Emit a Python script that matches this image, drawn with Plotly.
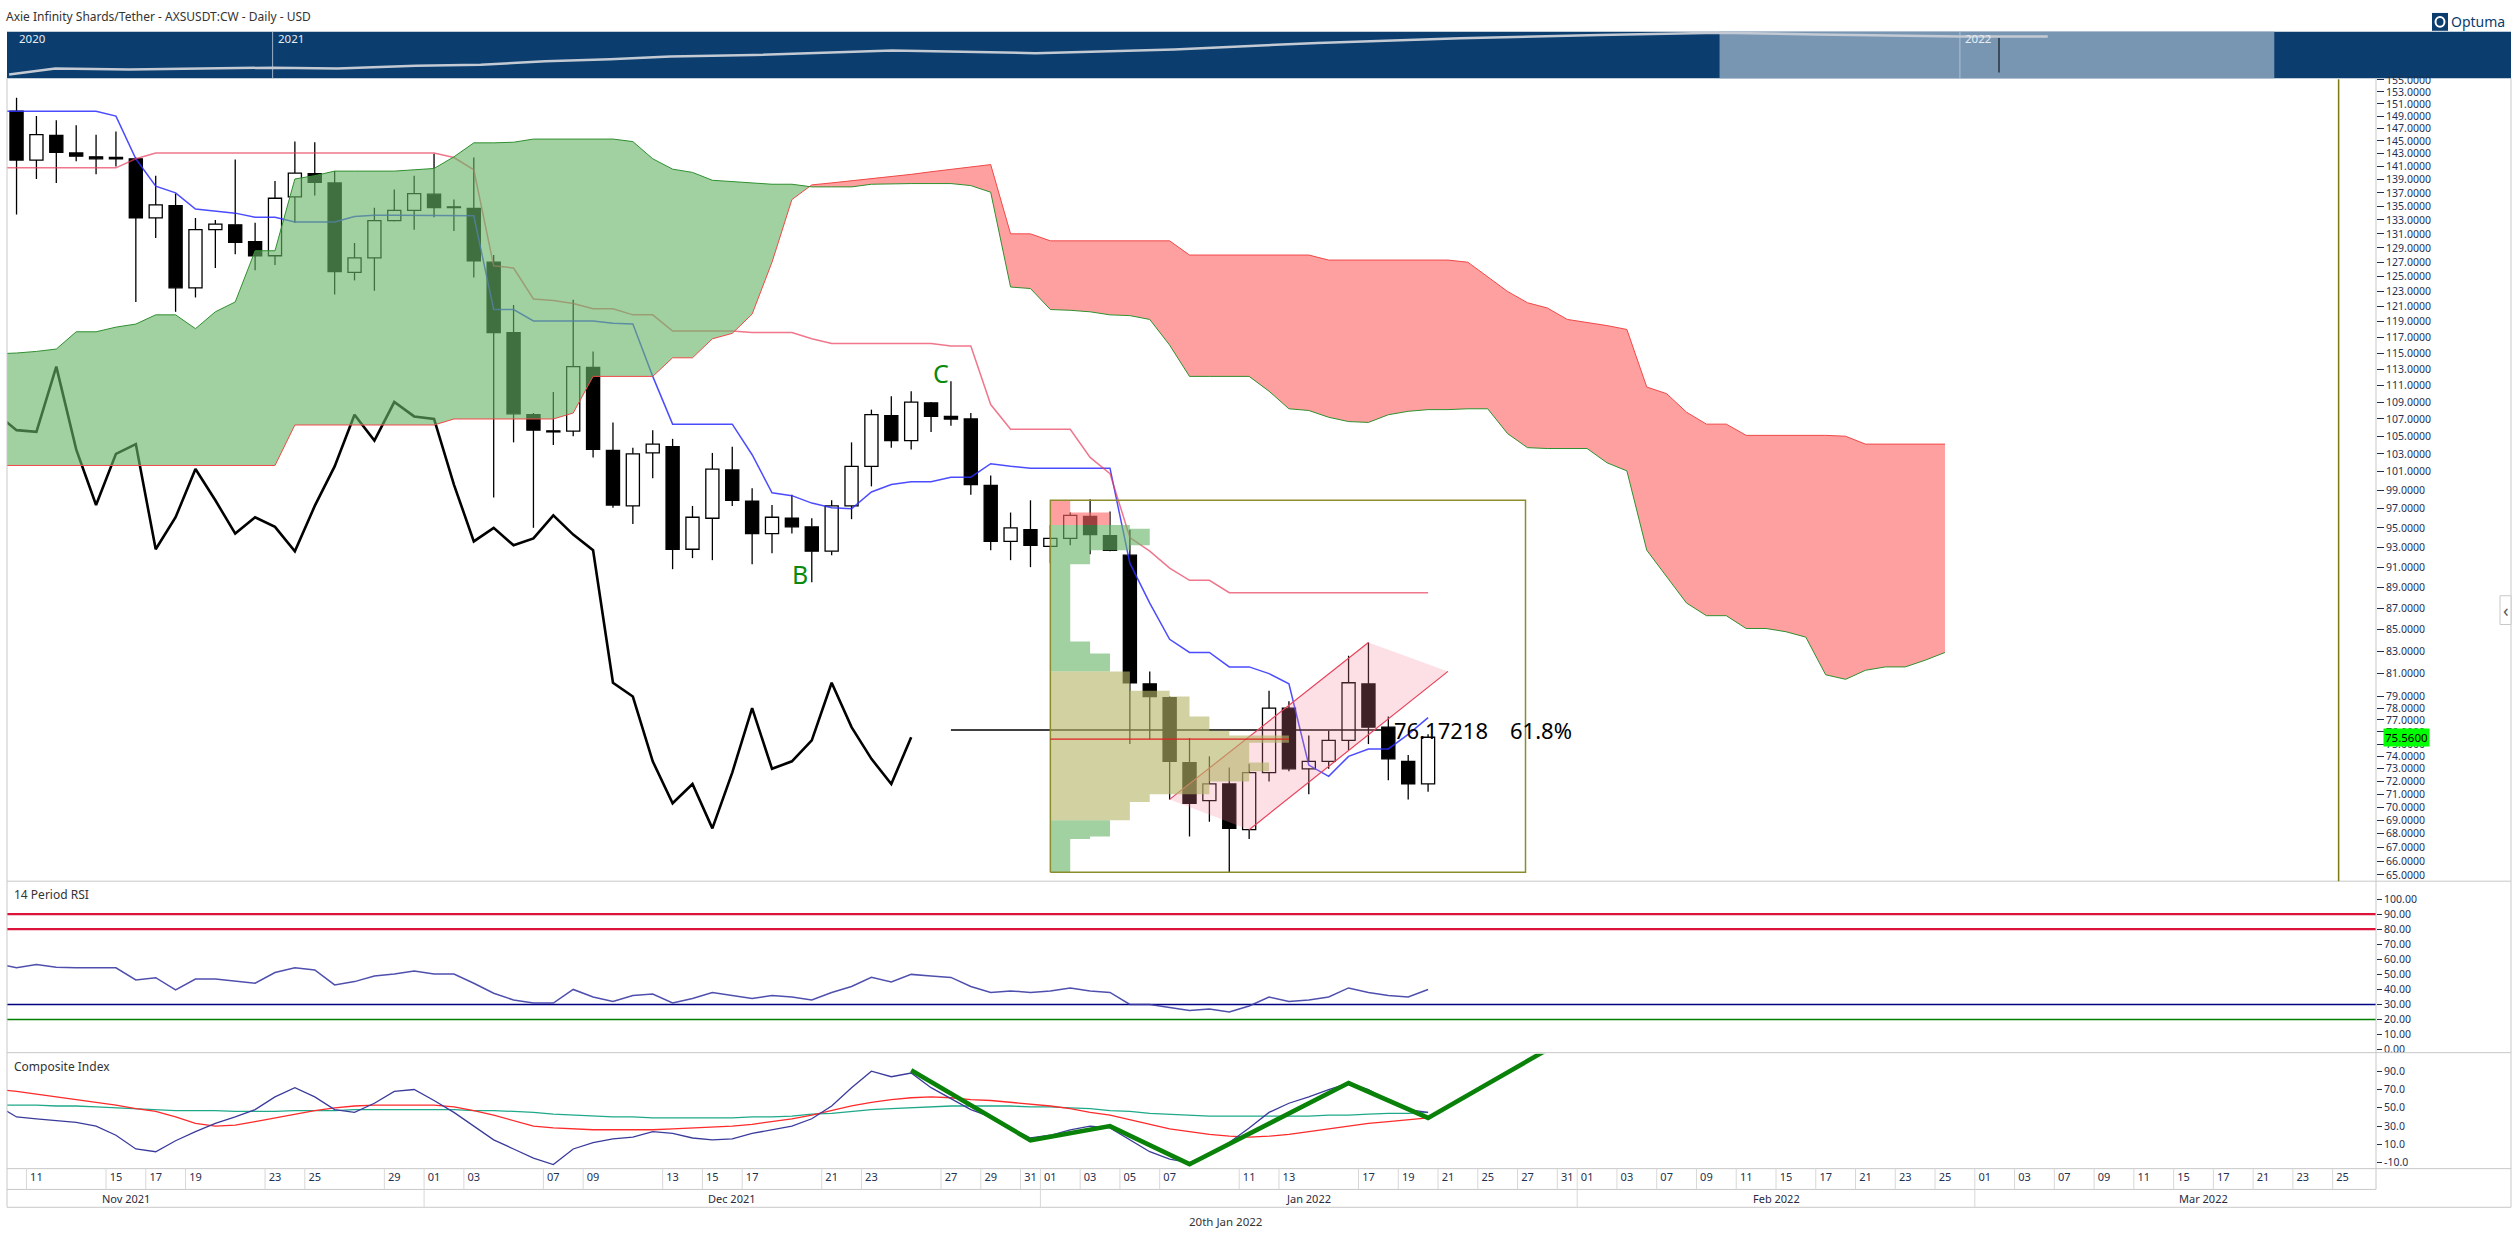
import math
import pandas as pd
import plotly.graph_objects as go

W, H = 2518, 1244
FONT = "Noto Sans"
TICK_COLOR = "#1f3050"

# ---------------- time axis (daily candles, future = weekdays) ----------------
data_dates = pd.date_range("2021-11-10", "2022-01-20", freq="D")
future_dates = pd.bdate_range("2022-01-21", "2022-03-31")
all_dates = list(data_dates) + list(future_dates)
POS = {d.strftime("%Y-%m-%d"): k for k, d in enumerate(all_dates)}


def xpos(s):
    if s in POS:
        return POS[s]
    return (pd.Timestamp(s) - data_dates[0]).days


# ---------------- price data (AXS/USDT daily, Nov 10 2021 - Jan 20 2022) ----------------
opens = [149.8, 142.0, 145.9, 143.1, 142.5, 142.4, 142.2, 133.3, 135.1, 123.5,
         131.6, 132.3, 129.9, 127.9, 136.4, 139.9, 138.5, 125.6, 127.6, 132.9,
         134.4, 136.8, 134.9, 134.7, 127.0, 117.6, 107.5, 105.6, 105.6, 113.2,
         103.4, 97.3, 103.1, 103.8, 92.8, 96.0, 101.2, 97.8, 94.4, 96.0,
         95.1, 92.6, 97.3, 101.6, 107.4, 104.5, 108.9, 107.3, 107.0, 99.5,
         93.6, 94.8, 93.1, 93.9, 96.2, 94.2, 92.2, 80.1, 78.9, 73.5,
         70.5, 71.8, 68.3, 72.7, 78.0, 73.0, 73.6, 75.3, 80.1, 76.4,
         73.6, 71.8]
highs = [152.0, 149.0, 148.3, 147.5, 146.0, 146.5, 142.4, 139.6, 136.9, 133.3,
         133.0, 142.1, 132.6, 138.8, 144.9, 144.8, 140.3, 129.7, 134.8, 137.5,
         139.6, 143.0, 136.0, 142.4, 128.0, 121.2, 107.7, 110.2, 121.9, 115.2,
         106.6, 103.7, 105.7, 104.7, 97.3, 103.1, 103.8, 99.2, 97.4, 98.5,
         96.0, 97.9, 104.3, 108.1, 109.7, 110.3, 109.0, 111.5, 107.7, 100.6,
         96.6, 97.9, 95.3, 96.6, 98.0, 96.7, 94.8, 81.2, 79.0, 75.5,
         74.0, 73.1, 73.4, 79.5, 78.6, 75.7, 76.1, 82.6, 83.8, 77.3,
         74.1, 75.8]
lows = [133.8, 139.1, 138.5, 141.8, 139.8, 141.0, 121.6, 130.4, 120.3, 122.2,
        126.2, 128.1, 125.9, 126.6, 132.6, 136.6, 122.6, 124.5, 123.1, 132.8,
        131.6, 133.4, 131.4, 124.9, 98.2, 104.3, 95.0, 104.0, 105.0, 102.6,
        97.1, 95.4, 100.3, 90.8, 91.9, 91.7, 97.3, 91.3, 92.4, 94.4,
        89.5, 92.2, 95.9, 99.4, 103.7, 103.5, 105.5, 106.2, 98.5, 92.7,
        91.7, 91.0, 91.4, 93.2, 92.3, 92.6, 75.0, 75.4, 70.6, 67.8,
        68.9, 65.2, 67.6, 72.0, 72.8, 71.0, 73.0, 74.5, 75.0, 72.1,
        70.6, 71.2]
closes = [142.0, 146.0, 143.2, 142.6, 142.2, 142.2, 133.3, 135.2, 123.5, 131.6,
          132.4, 129.8, 127.9, 136.2, 140.0, 138.6, 125.7, 127.6, 132.9, 134.4,
          136.9, 134.8, 134.8, 127.2, 117.6, 107.6, 105.7, 105.5, 113.3, 103.5,
          97.4, 103.0, 104.1, 92.8, 96.1, 101.3, 97.9, 94.4, 96.1, 95.1,
          92.6, 97.3, 101.6, 107.5, 104.5, 109.0, 107.3, 107.0, 99.6, 93.6,
          95.0, 93.2, 93.9, 96.3, 94.3, 92.7, 80.2, 79.0, 73.6, 70.3,
          71.8, 68.4, 72.7, 78.0, 73.0, 73.6, 75.3, 80.2, 76.4, 73.8,
          71.8, 75.56]

# ---------------- Ichimoku lines (first value = Nov 09, at the left edge) ----------------
tenkan = [149.8, 149.8, 149.8, 149.8, 149.8, 149.8, 149.0, 142.2, 138.0, 137.0, 134.6,
          134.3, 134.0, 133.4, 133.4, 132.7, 132.7, 132.7, 133.5, 133.7, 133.7,
          133.7, 133.7, 133.7, 133.6, 120.6, 120.6, 119.1, 119.1, 119.1, 119.1,
          118.8, 118.7, 112.1, 106.4, 106.4, 106.4, 106.4, 102.9, 98.7, 98.4,
          97.6, 97.1, 97.0, 98.8, 99.6, 99.9, 99.9, 100.4, 100.4, 101.9,
          101.6, 101.4, 101.4, 101.4, 101.4, 101.4, 91.4, 87.5, 84.1, 82.9,
          82.9, 81.6, 81.6, 81.0, 80.1, 73.3, 72.4, 74.0, 74.6, 74.6,
          75.8, 77.2]
kijun = [140.8, 140.8, 140.8, 140.8, 140.8, 140.8, 140.8, 142.2, 143.1, 143.1, 143.1,
         143.1, 143.1, 143.1, 143.1, 143.1, 143.1, 143.1, 143.1, 143.1, 143.1,
         143.1, 143.1, 142.4, 140.5, 126.5, 126.2, 122.0, 121.8, 121.4, 120.7,
         120.7, 119.9, 119.9, 117.8, 117.8, 117.8, 117.8, 117.6, 117.6, 117.6,
         116.8, 116.2, 116.2, 116.2, 116.2, 116.2, 116.2, 115.9, 115.9, 108.7,
         105.8, 105.8, 105.8, 105.8, 102.6, 100.8, 94.0, 92.6, 90.9, 89.7,
         89.7, 88.5, 88.5, 88.5, 88.5, 88.5, 88.5, 88.5, 88.5, 88.5,
         88.5, 88.5]
span_a = [114.9, 115.0, 115.2, 115.5, 117.7, 117.7, 118.3, 118.7, 119.9, 119.9, 118.1,
          120.3, 121.6, 128.6, 128.6, 139.1, 139.6, 140.3, 140.3, 140.3, 140.3,
          140.5, 140.7, 142.5, 144.7, 144.7, 144.8, 145.3, 145.3, 145.3, 145.3,
          145.3, 144.9, 142.2, 140.6, 140.1, 138.9, 138.7, 138.6, 138.3, 138.3,
          137.9, 137.9, 137.9, 138.3, 138.4, 138.4, 138.4, 138.4, 138.1, 137.1,
          123.6, 123.4, 120.6, 120.5, 120.3, 119.9, 119.8, 119.3, 116.0, 112.1,
          112.1, 112.1, 112.1, 110.3, 108.2, 108.0, 107.2, 106.7, 106.6, 107.5,
          107.9, 108.1, 108.1, 108.2, 108.2, 105.3, 103.7, 103.6, 103.6, 103.6,
          102.0, 101.1, 92.7, 90.1, 87.5, 86.3, 86.3, 85.1, 85.1, 84.8,
          84.3, 80.9, 80.5, 81.3, 81.6, 81.6, 82.2, 82.9]
span_b = [101.7, 101.7, 101.7, 101.7, 101.7, 101.7, 101.7, 101.7, 101.7, 101.7, 101.7,
          101.7, 101.7, 101.7, 101.7, 106.3, 106.3, 106.3, 106.3, 106.3, 106.3,
          106.3, 106.3, 107.0, 107.0, 107.0, 107.0, 107.0, 107.0, 107.7, 112.1,
          112.1, 112.1, 112.1, 114.4, 114.4, 116.8, 117.5, 120.0, 127.0, 136.0,
          138.2, 138.5, 138.8, 139.2, 139.5, 139.8, 140.2, 140.6, 141.0, 141.3,
          131.0, 131.0, 130.0, 130.0, 130.0, 130.0, 130.0, 130.0, 130.0, 128.0,
          128.0, 128.0, 128.0, 128.0, 128.0, 128.0, 127.3, 127.3, 127.3, 127.3,
          127.3, 127.3, 127.3, 127.0, 125.0, 123.0, 121.5, 120.8, 119.3, 118.9,
          118.5, 118.0, 110.8, 110.0, 107.8, 106.4, 106.4, 105.1, 105.1, 105.1,
          105.1, 105.1, 105.0, 104.1, 104.1, 104.1, 104.1, 104.1]
CHIKOU_SHIFT = 26

# ---------------- indicators (first value = Nov 09, at the left edge) ----------------
rsi = [57.2, 54.4, 56.6, 54.8, 54.4, 54.4, 54.4, 46.3, 47.8, 39.7, 46.9,
       46.9, 45.6, 44.1, 51.2, 54.4, 52.9, 43.0, 45.2, 48.9, 50.2,
       52.2, 50.2, 50.2, 44.1, 37.5, 33, 31, 31, 40, 35,
       32, 36, 37, 31, 34, 38, 36, 34, 36, 35,
       33, 38, 42, 48, 45, 50, 49, 48, 42, 38,
       39, 38, 39, 41, 39, 38, 30, 30, 28, 26,
       27, 25, 29, 35, 32, 33, 35, 41, 38, 36,
       35, 40]
rsi_levels = [90, 80, 30, 20]
rsi_level_colors = ["#dc143c", "#dc143c", "#000080", "#008000"]
rsi_level_widths = [2.2, 2.2, 1.5, 1.5]

composite = [52.8, 40, 38, 36, 34, 30, 20, 5, 2, 14, 24,
             33, 40, 48, 62, 72, 62, 48, 45, 55, 68,
             70, 58, 45, 30, 15, 5, -5, -12, 5, 12,
             16, 18, 24, 22, 17, 15, 16, 22, 26, 30,
             38, 52, 72, 90, 84, 88, 72, 60, 48, 40,
             28, 17, 20, 26, 30, 28, 15, 2, -6, -10,
             0, 12, 28, 45, 55, 62, 70, 77, 70, 58,
             48, 45]
comp_fast = [70, 68, 65, 62, 59, 56, 53, 49, 46, 40, 33,
             30, 31, 35, 39, 43, 47, 50, 52, 53, 53,
             53, 53, 51, 47, 42, 36, 30, 28, 27, 26,
             26, 26, 26, 27, 28, 29, 30, 32, 35, 38,
             42, 47, 52, 56, 59, 61, 62, 61, 59, 58,
             56, 54, 52, 49, 45, 42, 37, 32, 27, 24,
             21, 19, 18, 19, 21, 24, 27, 30, 33, 35,
             37, 39]
comp_slow = [53, 53, 53, 52, 52, 51, 50, 49, 48, 47, 47,
             47, 46, 46, 46, 47, 47, 47, 48, 48, 48,
             48, 48, 48, 47, 47, 46, 45, 43, 42, 41,
             40, 40, 39, 39, 39, 39, 39, 40, 40, 41,
             43, 44, 46, 48, 49, 50, 51, 52, 52, 52,
             52, 51, 51, 50, 49, 47, 46, 44, 43, 42,
             41, 41, 41, 41, 41, 41, 42, 42, 43, 44,
             44, 45]
zigzag_dates = ["2021-12-25", "2021-12-31", "2022-01-04", "2022-01-08",
                "2022-01-16", "2022-01-20", "2022-01-28"]
zigzag_vals = [91, 14.5, 30, -11.6, 77, 39, 113.7]

# ---------------- drawings ----------------
fib_price = 76.17218
fib_start = "2021-12-27"
fib_end_x = 69.1
fib_ratio_text = "61.8%"
fib_ratio_x = 75.0

channel_dates = ["2022-01-07", "2022-01-17", "2022-01-21", "2022-01-11"]
channel_prices = [70.6, 83.8, 81.2, 68.3]

wave_labels = ["B", "C"]
wave_dates = ["2021-12-20", "2021-12-27"]

# time-at-price profile (Jan 01 -> Jan 20)
vp_start = "2022-01-01"
vp_box_right = 75.9
vp_lo = [96.6, 95.3, 94.9, 93.2, 92.7, 91.3, 83.9, 82.8, 81.2, 79.5, 79.0, 77.3,
         76.1, 75.7, 75.1, 74.1, 73.5, 72.8, 72.0, 71.0, 70.4, 69.0, 67.8, 67.6, 65.2]
vp_hi = [97.9, 96.6, 95.3, 94.9, 93.2, 92.7, 91.3, 83.9, 82.8, 81.2, 79.5, 79.0,
         77.3, 76.1, 75.7, 75.1, 74.1, 73.5, 72.8, 72.0, 71.0, 70.4, 69.0, 67.8, 67.6]
vp_count = [1, 3, 4, 5, 4, 2, 1, 2, 3, 4, 6, 7, 8, 9, 12, 10, 10, 11, 10, 8, 5, 4, 3, 2, 1]
vp_zone = ["r", "r", "g", "g", "g", "g", "g", "g", "g", "t", "t", "t", "t", "t", "t",
           "t", "t", "t", "t", "t", "t", "t", "g", "g", "g"]

marker_line_x = 116.8
last_price_text = "75.5600"

# x-axis labels
tick_dates = ["2021-11-11", "2021-11-15", "2021-11-17", "2021-11-19", "2021-11-23",
              "2021-11-25", "2021-11-29", "2021-12-01", "2021-12-03", "2021-12-07",
              "2021-12-09", "2021-12-13", "2021-12-15", "2021-12-17", "2021-12-21",
              "2021-12-23", "2021-12-27", "2021-12-29", "2021-12-31", "2022-01-01",
              "2022-01-03", "2022-01-05", "2022-01-07", "2022-01-11", "2022-01-13",
              "2022-01-17", "2022-01-19", "2022-01-21", "2022-01-25", "2022-01-27",
              "2022-01-31", "2022-02-01", "2022-02-03", "2022-02-07", "2022-02-09",
              "2022-02-11", "2022-02-15", "2022-02-17", "2022-02-21", "2022-02-23",
              "2022-02-25", "2022-03-01", "2022-03-03", "2022-03-07", "2022-03-09",
              "2022-03-11", "2022-03-15", "2022-03-17", "2022-03-21", "2022-03-23",
              "2022-03-25"]
month_names = ["Nov 2021", "Dec 2021", "Jan 2022", "Feb 2022", "Mar 2022"]
month_first = ["2021-11-01", "2021-12-01", "2022-01-01", "2022-02-01", "2022-03-01", "2022-03-31"]

price_ticks = list(range(65, 80)) + list(range(81, 156, 2))
rsi_ticks = list(range(0, 101, 10))
comp_ticks = [-10, 10, 30, 50, 70, 90]

# navigator (overview of whole history, relative level 0-100)
nav_dates = ["2020-11-05", "2020-11-15", "2020-12-01", "2020-12-15", "2021-01-01",
             "2021-01-15", "2021-02-01", "2021-02-15", "2021-03-01", "2021-03-15",
             "2021-03-28", "2021-04-15", "2021-05-15", "2021-06-15", "2021-07-15",
             "2021-08-15", "2021-09-15", "2021-10-15", "2021-11-10", "2021-12-01",
             "2021-12-20", "2022-01-01", "2022-01-20"]
nav_level = [8.5, 21, 19, 21, 23, 21, 27, 29, 37, 41, 47, 50, 60, 54, 62,
             76, 86, 93, 98, 94, 92, 90, 90]
nav_years = ["2020", "2021", "2022"]
nav_year_dates = ["2020-11-06", "2021-01-01", "2022-01-01"]
nav_window = ["2021-11-10", "2022-03-10"]

# ====================================================================
def py(yp):
    return 1 - yp / H


def pxx(xp):
    return xp / W


X_DOM = [pxx(7), pxx(2376)]
XR = [-0.48, 118.68]
n = len(opens)
xs = list(range(n))
xs_ind = list(range(-1, n))          # indicator arrays start one bar before the first candle

fig = go.Figure()

# candle bodies
bases = [min(o, c) for o, c in zip(opens, closes)]
heights = [max(abs(c - o), 0.12) for o, c in zip(opens, closes)]
colors = ["white" if c >= o else "black" for o, c in zip(opens, closes)]
fig.add_trace(go.Bar(x=xs, y=heights, base=bases, width=0.66,
                     marker=dict(color=colors, line=dict(color="black", width=1.3)),
                     xaxis="x", yaxis="y", hoverinfo="skip"))
# wicks
wx, wy = [], []
for i in xs:
    top, bot = max(opens[i], closes[i]), min(opens[i], closes[i])
    wx += [i, i, None, i, i, None]
    wy += [highs[i], top, None, bot, lows[i], None]
fig.add_trace(go.Scatter(x=wx, y=wy, mode="lines", line=dict(color="black", width=1.3),
                         xaxis="x", yaxis="y", hoverinfo="skip"))

# chikou (close plotted 26 bars back)
fig.add_trace(go.Scatter(x=[i - CHIKOU_SHIFT for i in range(CHIKOU_SHIFT - 1, n)],
                         y=closes[CHIKOU_SHIFT - 1:], mode="lines",
                         line=dict(color="black", width=2.6), xaxis="x", yaxis="y"))
# tenkan / kijun
fig.add_trace(go.Scatter(x=xs_ind, y=tenkan, mode="lines", line=dict(color="rgba(45,45,255,0.85)", width=1.5),
                         xaxis="x", yaxis="y"))
fig.add_trace(go.Scatter(x=xs_ind, y=kijun, mode="lines", line=dict(color="rgba(232,60,90,0.7)", width=1.5),
                         xaxis="x", yaxis="y"))
# fib line
fx0 = xpos(fib_start)
fig.add_trace(go.Scatter(x=[fx0, fib_end_x], y=[fib_price, fib_price], mode="lines",
                         line=dict(color="black", width=1.5), xaxis="x", yaxis="y"))

# cloud with exact crossing points
cx = list(range(-1, len(span_a) - 1))
X, A, B = [], [], []
for k in range(len(cx)):
    X.append(cx[k]); A.append(span_a[k]); B.append(span_b[k])
    if k < len(cx) - 1:
        d0 = math.log(span_a[k]) - math.log(span_b[k])
        d1 = math.log(span_a[k + 1]) - math.log(span_b[k + 1])
        if d0 * d1 < 0:
            t = d0 / (d0 - d1)
            la = math.log(span_a[k]) + t * (math.log(span_a[k + 1]) - math.log(span_a[k]))
            X.append(cx[k] + t); A.append(math.exp(la)); B.append(math.exp(la))
TOP = [max(a, b) for a, b in zip(A, B)]
GREEN_FILL = "rgba(103,180,103,0.62)"
RED_FILL = "rgba(255,102,102,0.62)"
TAN_FILL = "rgba(181,181,103,0.62)"
fig.add_trace(go.Scatter(x=X, y=B, mode="lines", line=dict(width=0), xaxis="x", yaxis="y"))
fig.add_trace(go.Scatter(x=X, y=TOP, mode="lines", line=dict(width=0), fill="tonexty",
                         fillcolor=GREEN_FILL, xaxis="x", yaxis="y"))
fig.add_trace(go.Scatter(x=X, y=A, mode="lines", line=dict(width=0), xaxis="x", yaxis="y"))
fig.add_trace(go.Scatter(x=X, y=TOP, mode="lines", line=dict(width=0), fill="tonexty",
                         fillcolor=RED_FILL, xaxis="x", yaxis="y"))
fig.add_trace(go.Scatter(x=cx, y=span_b, mode="lines", line=dict(color="#f04848", width=1),
                         xaxis="x", yaxis="y"))
fig.add_trace(go.Scatter(x=cx, y=span_a, mode="lines", line=dict(color="#2f8f2f", width=1),
                         xaxis="x", yaxis="y"))

# channel
chx = [xpos(d) for d in channel_dates]
fig.add_trace(go.Scatter(x=chx + [chx[0]], y=channel_prices + [channel_prices[0]], mode="lines",
                         fill="toself", fillcolor="rgba(247,132,157,0.25)", line=dict(width=0),
                         xaxis="x", yaxis="y"))
fig.add_trace(go.Scatter(x=[chx[0], chx[1], None, chx[3], chx[2]],
                         y=[channel_prices[0], channel_prices[1], None, channel_prices[3], channel_prices[2]],
                         mode="lines", line=dict(color="#e8405a", width=1.2), xaxis="x", yaxis="y"))

# profile
vx0 = xpos(vp_start)
zone_fill = {"r": RED_FILL, "g": GREEN_FILL, "t": TAN_FILL}
for z in ["r", "g", "t"]:
    px_, py_ = [], []
    for lo, hi, cnt, zz in zip(vp_lo, vp_hi, vp_count, vp_zone):
        if zz != z:
            continue
        px_ += [vx0, vx0 + cnt, vx0 + cnt, vx0, vx0, None]
        py_ += [lo, lo, hi, hi, lo, None]
    fig.add_trace(go.Scatter(x=px_, y=py_, mode="lines", fill="toself", fillcolor=zone_fill[z],
                             line=dict(width=0), xaxis="x", yaxis="y"))
vlo, vhi = min(vp_lo), max(vp_hi)
fig.add_trace(go.Scatter(x=[vx0, vp_box_right, vp_box_right, vx0, vx0], y=[vlo, vlo, vhi, vhi, vlo],
                         mode="lines", line=dict(color="#8c8c2c", width=1.5), xaxis="x", yaxis="y"))
# POC line
poc = vp_count.index(max(vp_count))
poc_p = (vp_lo[poc] + vp_hi[poc]) / 2
fig.add_trace(go.Scatter(x=[vx0, vx0 + max(vp_count)], y=[poc_p, poc_p], mode="lines",
                         line=dict(color="#e02020", width=1.2), xaxis="x", yaxis="y"))

# RSI panel
for lv, lc, lw in zip(rsi_levels, rsi_level_colors, rsi_level_widths):
    fig.add_trace(go.Scatter(x=XR, y=[lv, lv], mode="lines", line=dict(color=lc, width=lw),
                             xaxis="x2", yaxis="y2"))
fig.add_trace(go.Scatter(x=xs_ind, y=rsi, mode="lines", line=dict(color="rgba(60,60,165,0.9)", width=1.5),
                         xaxis="x2", yaxis="y2"))

# Composite panel
fig.add_trace(go.Scatter(x=xs_ind, y=comp_slow, mode="lines", line=dict(color="#1fa88a", width=1.3),
                         xaxis="x3", yaxis="y3"))
fig.add_trace(go.Scatter(x=xs_ind, y=comp_fast, mode="lines", line=dict(color="#ff2a2a", width=1.3),
                         xaxis="x3", yaxis="y3"))
fig.add_trace(go.Scatter(x=xs_ind, y=composite, mode="lines", line=dict(color="#3b3b9c", width=1.3),
                         xaxis="x3", yaxis="y3"))
fig.add_trace(go.Scatter(x=[xpos(d) for d in zigzag_dates], y=zigzag_vals, mode="lines",
                         line=dict(color="#0a820a", width=4.5), xaxis="x3", yaxis="y3"))

# Navigator line
fig.add_trace(go.Scatter(x=nav_dates, y=nav_level, mode="lines", line=dict(color="#c3cad4", width=2.5),
                         xaxis="x4", yaxis="y4"))

# ---------------- shapes ----------------
shapes = []
shapes.append(dict(type="rect", xref="paper", yref="paper", x0=pxx(7), x1=pxx(2511), y0=py(72), y1=py(25),
                   fillcolor="#0b3d6e", line=dict(width=0), layer="below"))
shapes.append(dict(type="rect", xref="x4", yref="paper", x0=nav_window[0], x1=nav_window[1], y0=py(72), y1=py(25),
                   fillcolor="#7896b2", line=dict(width=0), layer="below"))
for d in nav_year_dates[1:]:
    shapes.append(dict(type="line", xref="x4", yref="paper", x0=d, x1=d, y0=py(72), y1=py(25),
                       line=dict(color="rgba(190,205,222,0.8)", width=1), layer="below"))
shapes.append(dict(type="line", xref="paper", yref="paper", x0=pxx(1999), x1=pxx(1999), y0=py(66), y1=py(31),
                   line=dict(color="#2a3340", width=1.5), layer="below"))
GRAY = "#c8c8c8"
for (y, x0, x1) in [(882, 7, 2511), (1055, 7, 2511), (1172, 7, 2511), (1193, 7, 2376), (1211, 7, 2511)]:
    shapes.append(dict(type="line", xref="paper", yref="paper", x0=pxx(x0), x1=pxx(x1), y0=py(y), y1=py(y),
                       line=dict(color=GRAY, width=1)))
for (x, y0, y1) in [(7, 72, 1211), (2376, 72, 1193), (2511, 72, 1211)]:
    shapes.append(dict(type="line", xref="paper", yref="paper", x0=pxx(x), x1=pxx(x), y0=py(y0), y1=py(y1),
                       line=dict(color=GRAY, width=1)))
shapes.append(dict(type="line", xref="x", yref="paper", x0=marker_line_x, x1=marker_line_x, y0=py(882), y1=py(73),
                   line=dict(color="#7a7a10", width=1.5)))
for d in tick_dates:
    xv = xpos(d) - 0.5
    shapes.append(dict(type="line", xref="x3", yref="paper", x0=xv, x1=xv, y0=py(1193), y1=py(1172),
                       line=dict(color="#d8d8d8", width=1)))
month_edges = [xpos(d) - 0.5 for d in month_first[:-1]] + [xpos(month_first[-1]) + 0.5]
for xv in month_edges[1:-1]:
    shapes.append(dict(type="line", xref="x3", yref="paper", x0=xv, x1=xv, y0=py(1211), y1=py(1193),
                       line=dict(color="#d8d8d8", width=1)))
shapes.append(dict(type="rect", xref="paper", yref="paper", x0=pxx(2500), x1=pxx(2511), y0=py(623), y1=py(594),
                   fillcolor="white", line=dict(color=GRAY, width=1)))
shapes.append(dict(type="rect", xref="paper", yref="paper", x0=pxx(2432), x1=pxx(2448), y0=py(24), y1=py(6),
                   fillcolor="#0b3d6e", line=dict(width=0)))
shapes.append(dict(type="circle", xref="paper", yref="paper", x0=pxx(2435.5), x1=pxx(2444.5), y0=py(20), y1=py(10),
                   fillcolor="rgba(0,0,0,0)", line=dict(color="white", width=2)))

# ---------------- annotations ----------------
ann = []
ann.append(dict(text="Axie Infinity Shards/Tether - AXSUSDT:CW - Daily - USD", xref="paper", yref="paper",
                x=pxx(4), y=py(10), xanchor="left", yanchor="middle", showarrow=False,
                font=dict(size=12, color="#333333")))
ann.append(dict(text="Optuma", xref="paper", yref="paper", x=pxx(2449), y=py(15), xanchor="left",
                yanchor="middle", showarrow=False, font=dict(size=14, color="#0b3d6e")))
for lbl, d in zip(nav_years, nav_year_dates):
    ann.append(dict(text=lbl, xref="x4", yref="paper", x=d, y=py(32), xanchor="left", yanchor="middle",
                    xshift=3, showarrow=False, font=dict(size=11.5, color="#e6edf5")))
ann.append(dict(text="14 Period RSI", xref="paper", yref="paper", x=pxx(12), y=py(895), xanchor="left",
                yanchor="middle", showarrow=False, font=dict(size=12, color="#333333")))
ann.append(dict(text="Composite Index", xref="paper", yref="paper", x=pxx(12), y=py(1069), xanchor="left",
                yanchor="middle", showarrow=False, font=dict(size=12, color="#333333")))
for k, name in enumerate(month_names):
    cxm = (month_edges[k] + month_edges[k + 1]) / 2
    ann.append(dict(text=name, xref="x3", yref="paper", x=cxm, y=py(1202), xanchor="center", yanchor="middle",
                    showarrow=False, font=dict(size=11, color="#2a2a40")))
ann.append(dict(text="20th Jan 2022", xref="paper", yref="paper", x=pxx(1225), y=py(1225), xanchor="center",
                yanchor="middle", showarrow=False, font=dict(size=11.5, color="#333333")))
ann.append(dict(text="%.5f" % fib_price, xref="x", yref="y", x=fib_end_x + 0.1, y=math.log10(fib_price),
                xanchor="left", yanchor="middle", showarrow=False, font=dict(size=22, color="black")))
ann.append(dict(text=fib_ratio_text, xref="x", yref="y", x=fib_ratio_x, y=math.log10(fib_price),
                xanchor="left", yanchor="middle", showarrow=False, font=dict(size=22, color="black")))
bi = POS[wave_dates[0]]
ci = POS[wave_dates[1]]
ann.append(dict(text=wave_labels[0], xref="x", yref="y", x=bi - 0.6, y=math.log10(lows[bi]),
                xanchor="center", yanchor="middle", yshift=8, showarrow=False,
                font=dict(size=25, color="#0a8a0a")))
ann.append(dict(text=wave_labels[1], xref="x", yref="y", x=ci - 0.5, y=math.log10(highs[ci]),
                xanchor="center", yanchor="middle", yshift=8, showarrow=False,
                font=dict(size=25, color="#0a8a0a")))
ann.append(dict(text=last_price_text, xref="paper", yref="y", x=pxx(2383), y=math.log10(closes[-1]),
                xanchor="left", yanchor="middle", showarrow=False, bgcolor="#00ff00", borderpad=1,
                font=dict(size=11.5, color="black")))
ann.append(dict(text="‹", xref="paper", yref="paper", x=pxx(2505.5), y=py(608), xanchor="center",
                yanchor="middle", showarrow=False, font=dict(size=18, color="#555555")))

axis_common = dict(showgrid=False, zeroline=False, showline=False)
tickfont = dict(size=10.5, color=TICK_COLOR, family=FONT)
fig.update_layout(
    width=W, height=H, autosize=False,
    margin=dict(l=0, r=0, t=0, b=0, pad=0),
    paper_bgcolor="white", plot_bgcolor="rgba(0,0,0,0)",
    showlegend=False, hovermode=False, barmode="overlay",
    font=dict(family=FONT, color=TICK_COLOR),
    xaxis=dict(domain=X_DOM, range=XR, anchor="y", showticklabels=False, ticks="", **axis_common),
    yaxis=dict(domain=[py(882), py(73)], type="log", range=[math.log10(64.56), math.log10(155.1)],
               side="right", anchor="x", tickmode="array", tickvals=price_ticks,
               ticktext=["%.4f" % v for v in price_ticks], ticks="outside", ticklen=7,
               tickcolor=TICK_COLOR, tickfont=tickfont, **axis_common),
    xaxis2=dict(domain=X_DOM, range=XR, anchor="y2", showticklabels=False, ticks="", **axis_common),
    yaxis2=dict(domain=[py(1055), py(883)], range=[-1.97, 111.2], side="right", anchor="x2",
                tickmode="array", tickvals=rsi_ticks, ticktext=["%.2f" % v for v in rsi_ticks],
                ticks="outside", ticklen=5, tickcolor=TICK_COLOR, tickfont=tickfont, **axis_common),
    xaxis3=dict(domain=X_DOM, range=XR, anchor="y3", tickmode="array",
                tickvals=[xpos(d) for d in tick_dates], ticktext=[d[-2:] for d in tick_dates],
                ticks="", tickfont=dict(size=11, color=TICK_COLOR, family=FONT), **axis_common),
    yaxis3=dict(domain=[py(1172), py(1056)], range=[-16.5, 109.2], side="right", anchor="x3",
                tickmode="array", tickvals=comp_ticks, ticktext=["%.1f" % v for v in comp_ticks],
                ticks="outside", ticklen=5, tickcolor=TICK_COLOR, tickfont=tickfont, **axis_common),
    xaxis4=dict(domain=[pxx(7), pxx(2511)], type="date", range=["2020-11-04 13:00", "2022-04-30 05:00"],
                anchor="y4", visible=False),
    yaxis4=dict(domain=[py(72), py(25)], range=[0, 100], anchor="x4", visible=False),
    shapes=shapes, annotations=ann,
)

fig.write_html("out.html", config={"displayModeBar": False},
               post_script="document.body.style.margin='0';document.body.style.overflow='hidden';")
